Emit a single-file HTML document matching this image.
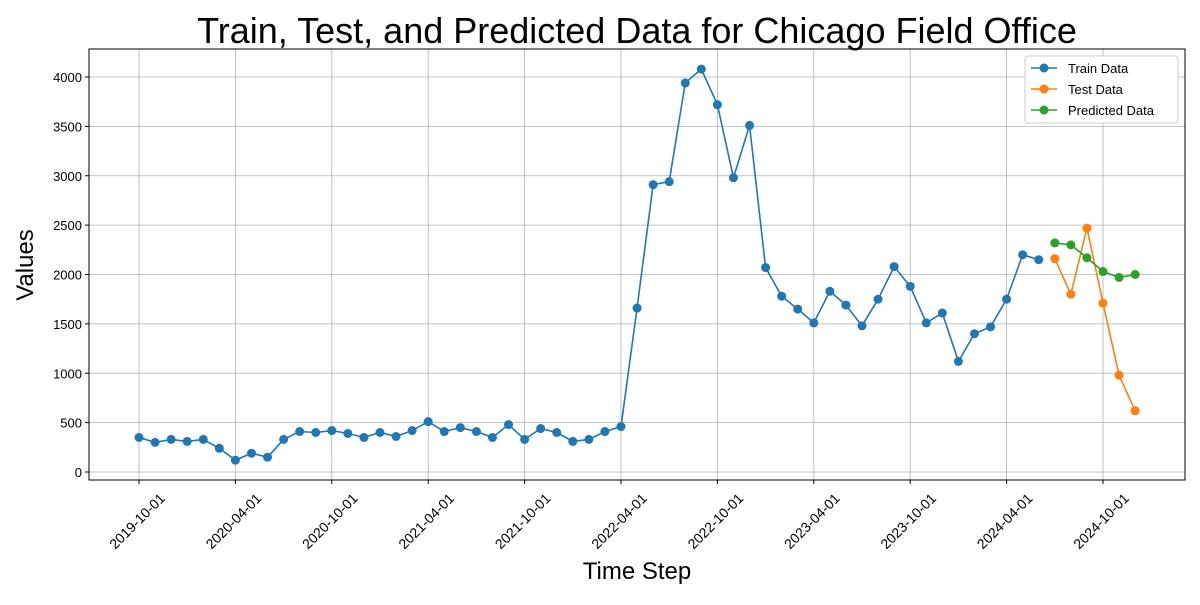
<!DOCTYPE html>
<html><head><meta charset="utf-8"><style>
body{margin:0;background:#fff}
svg{font-family:"Liberation Sans","DejaVu Sans",sans-serif}
</style></head><body>
<svg id="chart" width="1200" height="600" xmlns="http://www.w3.org/2000/svg">
<rect width="1200" height="600" fill="#fff"/>
<text x="637" y="43" font-size="36" text-anchor="middle">Train, Test, and Predicted Data for Chicago Field Office</text>
<g id="grid"></g>
<g id="axes"></g>
<g id="series"></g>
<text x="637" y="579" font-size="24" text-anchor="middle">Time Step</text>
<text x="33" y="265" font-size="24" text-anchor="middle" transform="rotate(-90 33 265)">Values</text>
<g>
<rect x="1025" y="56" width="153" height="67" fill="#fff" stroke="#ccc" rx="3"/>
<line x1="1031" y1="68" x2="1057" y2="68" stroke="#1f77b4" stroke-width="1.5"/><circle cx="1044" cy="68" r="4.5" fill="#1f77b4"/>
<text x="1068" y="73" font-size="13">Train Data</text>
<line x1="1031" y1="89" x2="1057" y2="89" stroke="#ff7f0e" stroke-width="1.5"/><circle cx="1044" cy="89" r="4.5" fill="#ff7f0e"/>
<text x="1068" y="94" font-size="13">Test Data</text>
<line x1="1031" y1="110" x2="1057" y2="110" stroke="#2ca02c" stroke-width="1.5"/><circle cx="1044" cy="110" r="4.5" fill="#2ca02c"/>
<text x="1068" y="115" font-size="13">Predicted Data</text>
</g>
</svg>
<script>
const trainValues=[350,300,330,310,330,240,120,190,150,330,410,400,420,390,350,400,360,420,510,410,450,410,350,480,330,440,400,310,330,410,460,1660,2910,2940,3940,4080,3720,2980,3510,2070,1780,1650,1510,1830,1690,1480,1750,2080,1880,1510,1610,1120,1400,1470,1750,2200,2150];
const testValues=[2160,1800,2470,1710,980,620];
const predValues=[2320,2300,2170,2030,1970,2000];
const yTicks=[0,500,1000,1500,2000,2500,3000,3500,4000];
const xTickLabels=["2019-10-01","2020-04-01","2020-10-01","2021-04-01","2021-10-01","2022-04-01","2022-10-01","2023-04-01","2023-10-01","2024-04-01","2024-10-01"];
const NS="http://www.w3.org/2000/svg";
const L=89,R=1185,T=49,B=480;
const xs=i=>139+i*(964/60);
const ys=v=>472-v*0.09875;
function mk(tag,attrs,parent){const e=document.createElementNS(NS,tag);for(const k in attrs)e.setAttribute(k,attrs[k]);parent.appendChild(e);return e;}
const grid=document.getElementById('grid'),axes=document.getElementById('axes'),ser=document.getElementById('series');
yTicks.forEach(v=>{const y=ys(v);
 const g=mk('line',{x1:L,x2:R,y1:y,y2:y,stroke:'#b0b0b0','stroke-width':0.8},grid);
 
 
 mk('line',{x1:L-4,x2:L,y1:y,y2:y,stroke:'#000'},axes);
 const t=mk('text',{x:L-7,y:y+5,'font-size':13,'text-anchor':'end'},axes);t.textContent=v;
 
 
});
xTickLabels.forEach((lab,k)=>{const x=xs(k*6)-2;
 const g=mk('line',{x1:x+2,x2:x+2,y1:T,y2:B,stroke:'#b0b0b0','stroke-width':0.8},grid);
 
 
 mk('line',{x1:x+2,x2:x+2,y1:B,y2:B+4,stroke:'#000'},axes);
 const cy=B+41;
 const t=mk('text',{x:x,y:cy+5,'font-size':14,'text-anchor':'middle',transform:`rotate(-45 ${x} ${cy})`},axes);t.textContent=lab;
 
 
});
const frame=mk('rect',{x:L,y:T,width:R-L,height:B-T,fill:'none',stroke:'#000','stroke-width':1},axes);


function series(vals,offset,color,name){
 const pts=vals.map((v,i)=>xs(i+offset)+','+ys(v)).join(' ');
 const pl=mk('polyline',{points:pts,fill:'none',stroke:color,'stroke-width':1.6},ser);
 
 
 vals.forEach((v,i)=>{const c=mk('circle',{cx:xs(i+offset),cy:ys(v),r:4.5,fill:color},ser);
  
  });
}
series(trainValues,0,'#1f77b4','train');
series(testValues,57,'#ff7f0e','test');
series(predValues,57,'#2ca02c','predicted');
</script>
</body></html>
